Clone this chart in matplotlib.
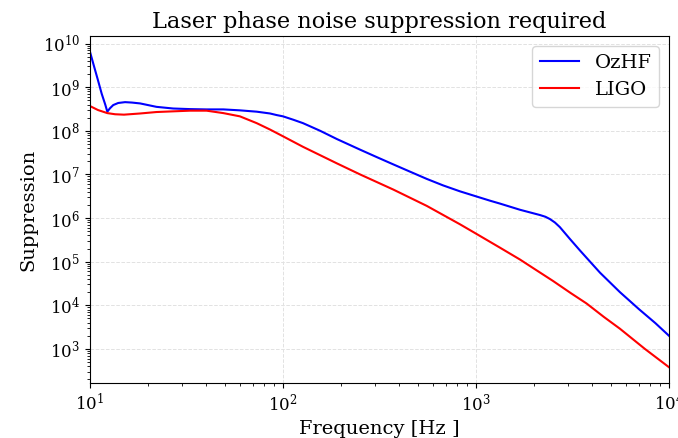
"""
laser phase noise suppression needed for OzHF and LIGO
"""

import matplotlib
matplotlib.use('Agg')
import matplotlib.pyplot as plt

plt.rcParams['font.family'] = 'DejaVu Serif'
plt.rcParams['mathtext.fontset'] = 'dejavuserif'

# OzHF curve
OZHF_FREQ = [10, 10.5, 11, 11.5, 12, 12.3, 12.7, 13.2, 14.0, 15.2, 16.5, 18.2,
             22.1, 27.0, 33.0, 40.2, 49.1, 59.8, 73.1, 85.7, 92.7, 100, 113,
             127, 156, 190, 251, 306, 373, 457, 556, 676, 826, 1000, 1183, 1330,
             1690, 2150, 2290, 2415, 2565, 2720, 3070, 3460, 3900, 4390, 5570,
             7000, 8500, 10000]
OZHF_SUPP = [6.5e9, 3.0e9, 1.45e9, 7.1e8, 4.0e8, 2.75e8, 3.3e8, 3.9e8, 4.35e8,
             4.55e8, 4.45e8, 4.25e8, 3.55e8, 3.25e8, 3.15e8, 3.1e8, 3.1e8,
             2.95e8, 2.75e8, 2.5e8, 2.3e8, 2.15e8, 1.8e8, 1.5e8, 1.0e8, 6.5e7,
             3.7e7, 2.5e7, 1.7e7, 1.15e7, 7.9e6, 5.6e6, 4.1e6, 3.15e6, 2.5e6,
             2.15e6, 1.55e6, 1.17e6, 1.07e6, 9.5e5, 7.9e5, 6.2e5, 3.3e5, 1.8e5,
             1.0e5, 5.6e4, 2.0e4, 8.1e3, 3.9e3, 2.0e3]

# LIGO curve
LIGO_FREQ = [10, 11, 12.3, 13.5, 15.0, 18.2, 22.1, 27.0, 33.0, 40.2, 49.1, 59.8,
             73.1, 85.7, 100, 127, 190, 251, 373, 556, 826, 1000, 1330, 1690,
             1980, 2510, 3100, 3740, 4600, 5570, 7500, 10000]
LIGO_SUPP = [3.7e8, 3.0e8, 2.55e8, 2.4e8, 2.35e8, 2.5e8, 2.7e8, 2.8e8, 2.9e8,
             2.9e8, 2.55e8, 2.15e8, 1.5e8, 1.07e8, 7.5e7, 4.3e7, 1.8e7, 1.0e7,
             4.5e6, 1.9e6, 7.2e5, 4.4e5, 2.1e5, 1.12e5, 7.1e4, 3.6e4, 1.9e4,
             1.1e4, 5.4e3, 2.9e3, 1.0e3, 3.8e2]


def draw(filename):
    fig = plt.figure(figsize=(6.78, 4.38), dpi=100)
    ax = fig.add_axes([0.1327, 0.1256, 0.854, 0.7922])

    ax.loglog(OZHF_FREQ, OZHF_SUPP, color='blue', lw=1.5, label='OzHF')
    ax.loglog(LIGO_FREQ, LIGO_SUPP, color='red', lw=1.5, label='LIGO')

    ax.set_xlim(10, 1e4)
    ax.grid(True, which='major', ls='--', color='#e2e2e2', lw=0.7)
    ax.tick_params(labelsize=12)

    ax.set_xlabel('Frequency [Hz ]', fontsize=14)
    ax.set_ylabel('Suppression', fontsize=14)
    ax.set_title('Laser phase noise suppression required', fontsize=16.2)
    ax.legend(loc='upper right', fontsize=14)

    fig.savefig(filename)


if __name__ == '__main__':
    draw('out.png')
